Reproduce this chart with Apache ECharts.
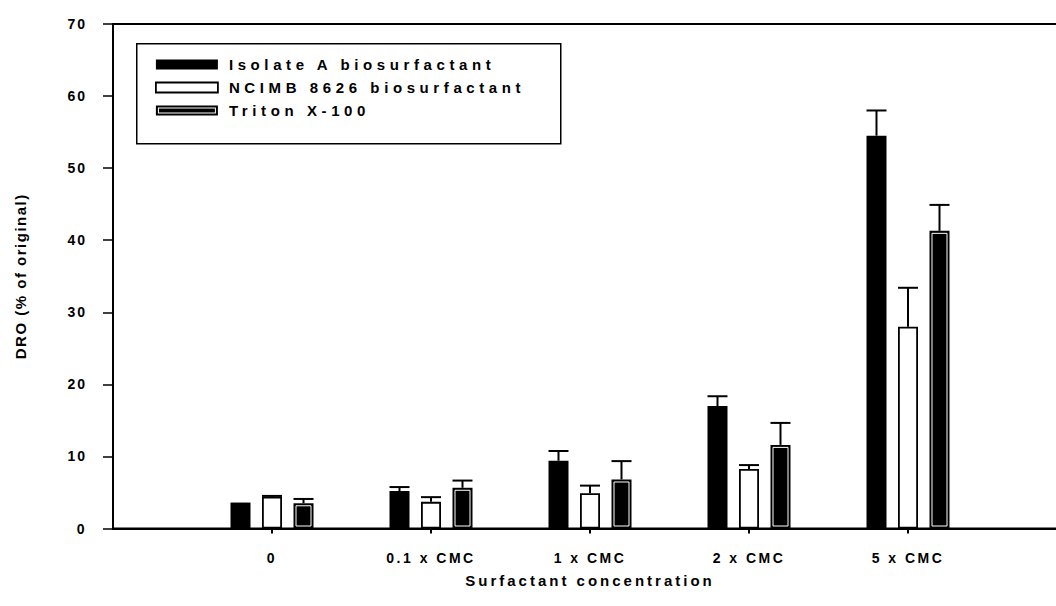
<!DOCTYPE html>
<html>
<head>
<meta charset="utf-8">
<title>DRO vs surfactant concentration</title>
<script src="https://cdn.jsdelivr.net/npm/echarts@6/dist/echarts.min.js"></script>
<style>
  html, body { margin: 0; padding: 0; background: #fff; }
  #chart { width: 1056px; height: 606px; }
</style>
</head>
<body>
<div id="chart"></div>
<script>
// Surfactant concentrations on the x axis
const categories = ['0', '0.1 x CMC', '1 x CMC', '2 x CMC', '5 x CMC'];

// DRO (% of original), means and standard errors
const isolateA = [3.6, 5.2, 9.4, 17.0, 54.5];
const isolateAErr = [0, 0.55, 1.35, 1.35, 3.5];
const ncimb = [4.4, 3.7, 4.9, 8.25, 28.0];
const ncimbErr = [0.12, 0.65, 1.05, 0.55, 5.4];
const triton = [3.5, 5.65, 6.8, 11.6, 41.3];
const tritonErr = [0.6, 1.0, 2.55, 3.05, 3.6];

const yTicks = [0, 10, 20, 30, 40, 50, 60, 70];
const seriesNames = ['Isolate A biosurfactant', 'NCIMB 8626 biosurfactant', 'Triton X-100'];

const FONT = 'Liberation Sans, Arial, sans-serif';
const BAR_W = 20;
const BAR_GAP = 11.5;
const STEP = BAR_W + BAR_GAP;

// pad the category axis with an empty slot on each side
const axisCats = [''].concat(categories, ['']);
const pad = arr => [null].concat(arr, [null]);
const errData = (vals, errs) => vals.map((v, i) => [i + 1, v, errs[i]]);

function errorBars(offset) {
  return function (params, api) {
    const idx = api.value(0), v = api.value(1), e = api.value(2);
    if (!e) return null;
    const top = api.coord([idx, v]);
    const cap = api.coord([idx, v + e]);
    const x = top[0] + offset;
    const st = { stroke: '#000', lineWidth: 2 };
    return {
      type: 'group',
      children: [
        { type: 'line', shape: { x1: x, y1: top[1], x2: x, y2: cap[1] }, style: st },
        { type: 'line', shape: { x1: x - BAR_W / 2, y1: cap[1], x2: x + BAR_W / 2, y2: cap[1] }, style: st }
      ]
    };
  };
}

// thin white inner outline of the Triton bars
function tritonInner(params, api) {
  const idx = api.value(0), v = api.value(1);
  const top = api.coord([idx, v]);
  const base = api.coord([idx, 0]);
  const x = top[0] + STEP;
  const inset = 2.5;
  return {
    type: 'rect',
    shape: { x: x - BAR_W / 2 + inset, y: top[1] + inset, width: BAR_W - 2 * inset, height: base[1] - top[1] - 2 * inset },
    style: { fill: null, stroke: '#fff', lineWidth: 1 }
  };
}

const chart = echarts.init(document.getElementById('chart'), null, { renderer: 'svg' });

chart.setOption({
  animation: false,
  backgroundColor: '#fff',
  grid: {
    left: 113, top: 24, width: 954, height: 504.5,
    containLabel: false, outerBoundsMode: 'none',
    show: true, borderColor: '#000', borderWidth: 2, backgroundColor: 'transparent'
  },
  graphic: [{
    type: 'rect', z: 3, left: 136, top: 43,
    shape: { width: 424, height: 100 },
    style: { fill: '#fff', stroke: '#000', lineWidth: 1.5 }
  }],
  legend: {
    orient: 'vertical', left: 155, top: 57, padding: 0, z: 5,
    itemWidth: 62, itemHeight: 10, itemGap: 8,
    selectedMode: false,
    textStyle: { fontFamily: FONT, fontWeight: 'bold', fontSize: 15, color: '#000', padding: [0, 0, 0, 6] },
    data: [
      { name: seriesNames[0], icon: 'rect', itemStyle: { color: '#000', borderWidth: 0 } },
      { name: seriesNames[1], icon: 'rect', itemStyle: { color: '#fff', borderColor: '#000', borderWidth: 1.8 } },
      { name: seriesNames[2], icon: 'path://M0,0H62V10H0Z M2,2V8H60V2Z M3,3H59V7H3Z', itemStyle: { color: '#000', borderWidth: 0 } }
    ]
  },
  xAxis: {
    type: 'category',
    data: axisCats,
    boundaryGap: false,
    name: 'Surfactant concentration',
    nameLocation: 'middle',
    nameGap: 44,
    nameTextStyle: { fontFamily: FONT, fontWeight: 'bold', fontSize: 15, color: '#000' },
    axisLine: { lineStyle: { color: '#000', width: 2 } },
    axisTick: { show: true, length: 5, lineStyle: { color: '#000', width: 2 }, interval: (i) => i > 0 && i <= categories.length },
    axisLabel: { interval: 0, margin: 22, fontFamily: FONT, fontWeight: 'bold', fontSize: 14, color: '#000' },
    splitLine: { show: false }
  },
  yAxis: {
    type: 'value',
    min: yTicks[0], max: yTicks[yTicks.length - 1], interval: 10,
    name: 'DRO (% of original)',
    nameLocation: 'middle',
    nameRotate: 90,
    nameGap: 85,
    nameTextStyle: { fontFamily: FONT, fontWeight: 'bold', fontSize: 15, color: '#000' },
    axisLine: { show: true, lineStyle: { color: '#000', width: 2 } },
    axisTick: { show: true, length: 10, lineStyle: { color: '#000', width: 1.5 } },
    axisLabel: { margin: 26, fontFamily: FONT, fontWeight: 'bold', fontSize: 14, color: '#000' },
    splitLine: { show: false }
  },
  series: [
    { name: seriesNames[0], type: 'bar', data: pad(isolateA), barWidth: BAR_W, barGap: (BAR_GAP / BAR_W * 100) + '%', silent: true,
      itemStyle: { color: '#000' } },
    { name: seriesNames[1], type: 'bar', data: pad(ncimb), barWidth: BAR_W, barGap: (BAR_GAP / BAR_W * 100) + '%', silent: true,
      itemStyle: { color: '#fff', borderColor: '#000', borderWidth: 1.8 } },
    { name: seriesNames[2], type: 'bar', data: pad(triton), barWidth: BAR_W, barGap: (BAR_GAP / BAR_W * 100) + '%', silent: true,
      itemStyle: { color: '#000' } },
    { type: 'custom', silent: true, z: 4, renderItem: tritonInner, data: errData(triton, tritonErr), encode: { x: 0, y: 1 } },
    { type: 'custom', silent: true, z: 4, renderItem: errorBars(-STEP), data: errData(isolateA, isolateAErr), encode: { x: 0, y: 1 } },
    { type: 'custom', silent: true, z: 4, renderItem: errorBars(0), data: errData(ncimb, ncimbErr), encode: { x: 0, y: 1 } },
    { type: 'custom', silent: true, z: 4, renderItem: errorBars(STEP), data: errData(triton, tritonErr), encode: { x: 0, y: 1 } }
  ]
});

// widen the tracking of the labels
function spaceText() {
  const texts = document.querySelectorAll('#chart svg text');
  texts.forEach(t => {
    const s = t.textContent;
    let ls = 2;
    if (seriesNames.indexOf(s) >= 0) ls = 4.6;
    else if (s === 'Surfactant concentration') ls = 3;
    else if (s === 'DRO (% of original)') ls = 1.5;
    else if (categories.indexOf(s) >= 0) ls = 2.5;
    t.setAttribute('letter-spacing', ls);
  });
}
chart.on('finished', spaceText);
setTimeout(spaceText, 50);
</script>
</body>
</html>
